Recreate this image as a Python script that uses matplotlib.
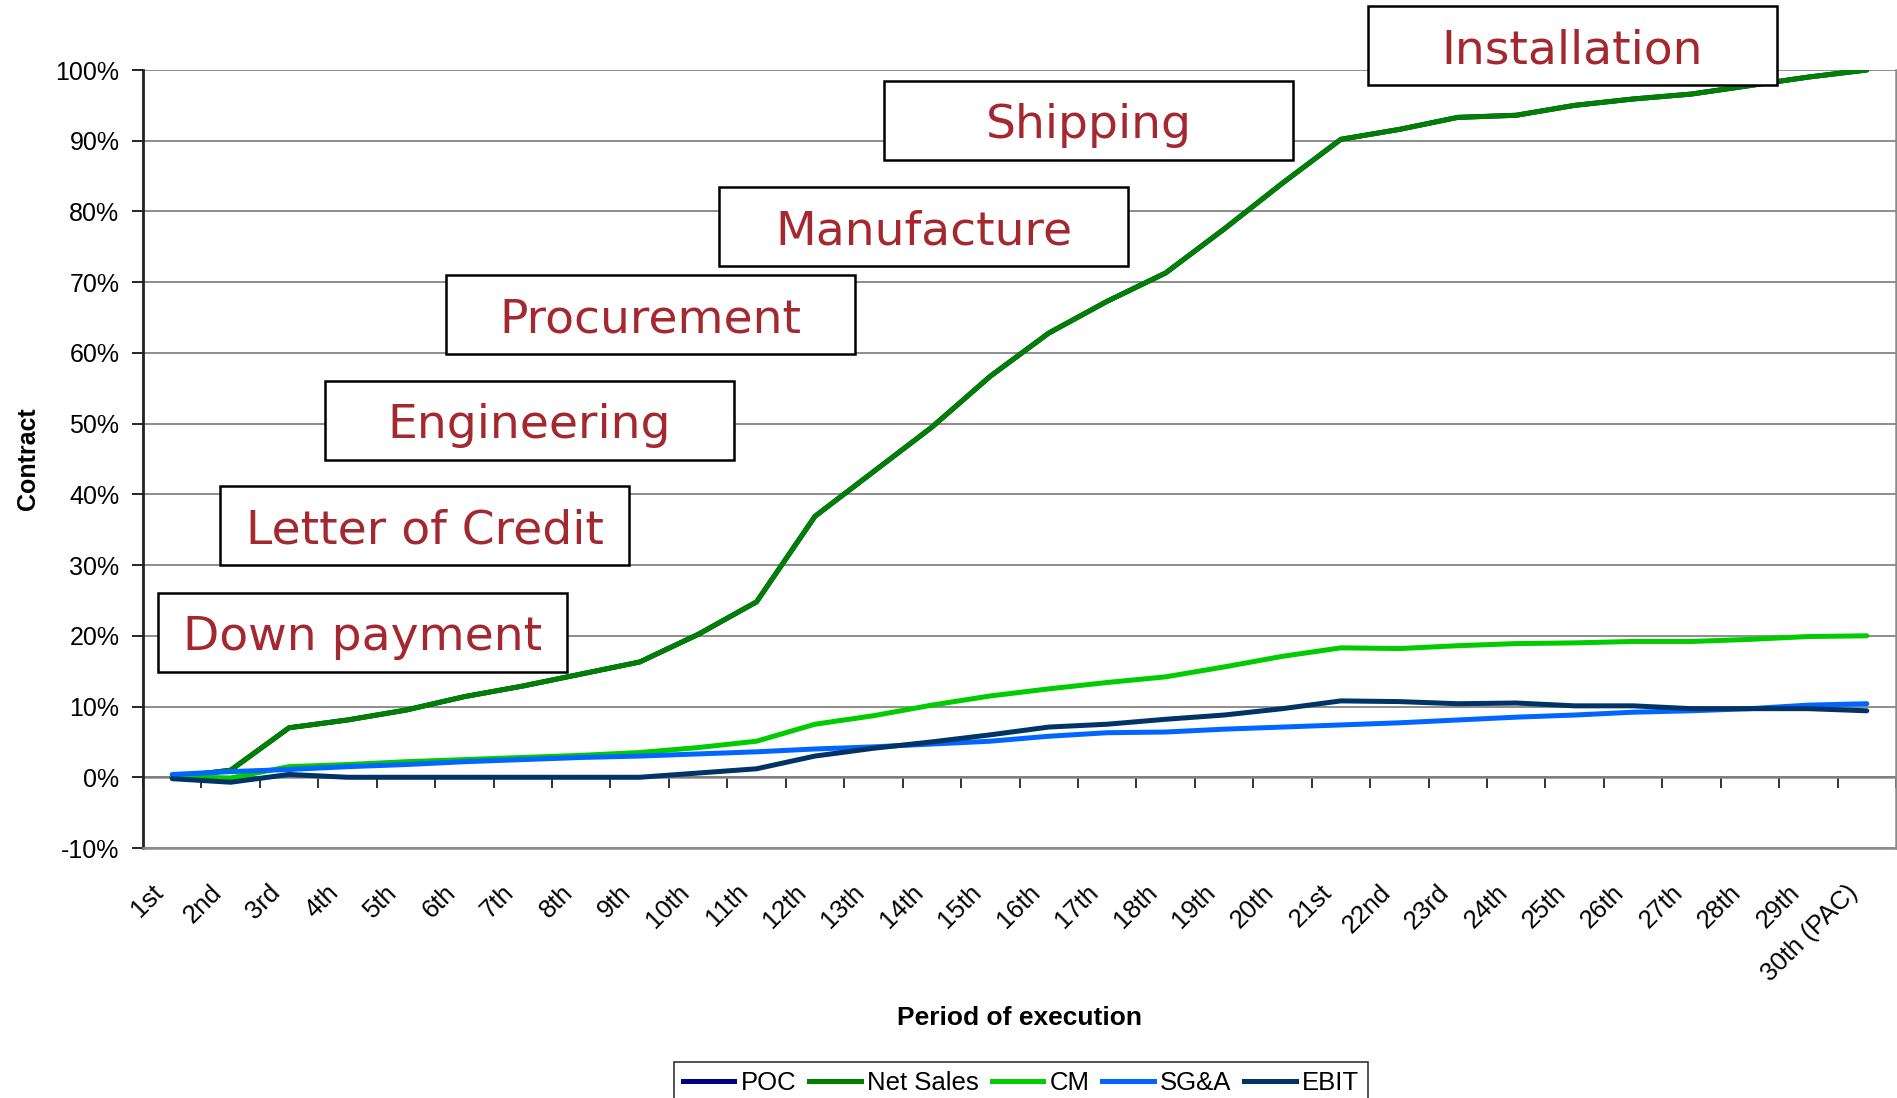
import matplotlib
matplotlib.use("Agg")
import matplotlib.pyplot as plt
from matplotlib.patches import Rectangle
from matplotlib.lines import Line2D
from matplotlib.ticker import FixedLocator, FuncFormatter, NullFormatter
from matplotlib.transforms import ScaledTranslation

# ---------------- data ----------------
periods = ["1st", "2nd", "3rd", "4th", "5th", "6th", "7th", "8th", "9th", "10th",
           "11th", "12th", "13th", "14th", "15th", "16th", "17th", "18th", "19th", "20th",
           "21st", "22nd", "23rd", "24th", "25th", "26th", "27th", "28th", "29th", "30th (PAC)"]

net_sales = [0.0, 1.0, 7.0, 8.1, 9.5, 11.4, 12.9, 14.6, 16.3, 20.2,
             24.8, 36.9, 43.2, 49.5, 56.7, 62.8, 67.3, 71.3, 77.5, 84.0,
             90.2, 91.6, 93.3, 93.6, 95.0, 95.9, 96.6, 97.8, 99.0, 100.0]
poc = [0.0, 1.0, 7.0, 8.1, 9.5, 11.4, 12.9, 14.6, 16.3, 20.2,
       24.8, 36.9, 43.2, 49.5, 56.7, 62.8, 67.3, 71.3, 77.5, 84.0,
       90.2, 91.6, 93.3, 93.6, 95.0, 95.9, 96.6, 97.8, 99.0, 100.0]
cm = [0.1, -0.1, 1.5, 1.8, 2.2, 2.5, 2.8, 3.1, 3.5, 4.2,
      5.1, 7.5, 8.7, 10.2, 11.5, 12.5, 13.4, 14.2, 15.6, 17.1,
      18.3, 18.2, 18.6, 18.9, 19.0, 19.2, 19.2, 19.5, 19.9, 20.0]
sga = [0.4, 0.8, 1.1, 1.5, 1.8, 2.2, 2.5, 2.8, 3.0, 3.3,
       3.6, 4.0, 4.3, 4.7, 5.1, 5.8, 6.3, 6.4, 6.8, 7.1,
       7.4, 7.7, 8.1, 8.5, 8.8, 9.2, 9.4, 9.7, 10.2, 10.4]
ebit = [-0.2, -0.7, 0.4, 0.0, 0.0, 0.0, 0.0, 0.0, 0.0, 0.6,
        1.2, 3.0, 4.1, 5.0, 6.0, 7.1, 7.5, 8.2, 8.8, 9.7,
        10.8, 10.7, 10.4, 10.5, 10.1, 10.1, 9.7, 9.7, 9.7, 9.4]

series_names = ["POC", "Net Sales", "CM", "SG&A", "EBIT"]
y_ticks = [-10, 0, 10, 20, 30, 40, 50, 60, 70, 80, 90, 100]
phases = ["Down payment", "Letter of Credit", "Engineering", "Procurement",
          "Manufacture", "Shipping", "Installation"]

# ---------------- style / layout ----------------
colors = ["#000080", "#008000", "#00CC00", "#0066FF", "#003366"]
W, H = 1897, 1098
fig = plt.figure(figsize=(W / 100, H / 100), dpi=100)
ax = fig.add_axes([143 / W, 1 - 848 / H, 1753 / W, 778 / H])

sans = ["Liberation Sans", "DejaVu Sans"]
narrow = ["Liberation Sans Narrow", "Liberation Sans", "DejaVu Sans"]

x = list(range(len(periods)))
for name, vals, col in zip(series_names, [poc, net_sales, cm, sga, ebit], colors):
    ax.plot(x, vals, color=col, lw=3.6, solid_capstyle="round", solid_joinstyle="round",
            label=name, zorder=3)

ax.set_xlim(-0.5, len(periods) - 0.5)
ax.set_ylim(y_ticks[0], y_ticks[-1])
ax.yaxis.set_major_locator(FixedLocator(y_ticks))
ax.yaxis.set_major_formatter(FuncFormatter(lambda v, p: f"{int(round(v))}%"))
ax.grid(axis="y", color="#7a7a7a", lw=1.2, zorder=1)
ax.tick_params(axis="y", direction="out", length=8, width=1.2, color="black",
               pad=9, labelsize=18)
for lab in ax.get_yticklabels():
    lab.set_family(sans)

ax.set_xticks(x)
ax.set_xticklabels(periods, rotation=45, ha="right", rotation_mode="anchor",
                   fontsize=18.5, family=sans)
ax.tick_params(axis="x", length=0, pad=23)
shift = ScaledTranslation(-21 / 100, 0, fig.dpi_scale_trans)
for lab in ax.get_xticklabels():
    lab.set_transform(lab.get_transform() + shift)

for s in ["top", "right", "bottom"]:
    ax.spines[s].set_color("#8c8c8c")
    ax.spines[s].set_linewidth(1.8)
ax.spines["top"].set_visible(False)
ax.spines["left"].set_color("#222222")
ax.spines["left"].set_linewidth(2.0)

# category axis crossing at 0 % with tick marks between categories
zero_loc = (0 - y_ticks[0]) / (y_ticks[-1] - y_ticks[0])
sec = ax.secondary_xaxis(zero_loc)
sec.xaxis.set_major_locator(FixedLocator([i + 0.5 for i in range(-1, len(periods))]))
sec.xaxis.set_major_formatter(NullFormatter())
sec.tick_params(axis="x", direction="out", length=8, width=1.3, color="#222222")
sec.spines["bottom"].set_color("#8c8c8c")
sec.spines["bottom"].set_linewidth(1.8)

ax.set_ylabel("Contract", fontsize=18, fontweight="bold", family=narrow)
ax.set_xlabel("Period of execution", fontsize=19, fontweight="bold", family=narrow)
ax.xaxis.set_label_coords(0.5, (848 - 1006) / 778)
ax.yaxis.set_label_coords((40 - 143) / 1753, 0.5)

# phase boxes (figure pixel layout)
box_px = [(158, 593), (220, 486), (325, 381), (446, 275), (719, 187), (884, 81), (1368, 6)]
bw, bh = 409, 79
for label, (bx, by) in zip(phases, box_px):
    rect = Rectangle((bx / W, 1 - (by + bh) / H), bw / W, bh / H,
                     transform=fig.transFigure, facecolor="white",
                     edgecolor="black", lw=1.8, zorder=10)
    fig.add_artist(rect)
    fig.text((bx + bw / 2) / W, 1 - (by + bh / 2 + 18) / H, label,
             ha="center", va="baseline", fontsize=34, color="#A3282F",
             family=["DejaVu Sans"], zorder=11)

handles = [Line2D([0], [0], color=c, lw=3.6) for c in colors]
leg = fig.legend(handles, series_names, loc="upper center",
                 bbox_to_anchor=(1021 / W, 1 - 1062 / H), ncol=5,
                 frameon=True, fancybox=False, edgecolor="black",
                 prop={"family": narrow, "size": 18.5}, handlelength=2.0,
                 handletextpad=0.25, columnspacing=0.5, borderpad=0.35,
                 borderaxespad=0.0)
leg.get_frame().set_linewidth(1.2)

fig.savefig("out.png", dpi=100)
